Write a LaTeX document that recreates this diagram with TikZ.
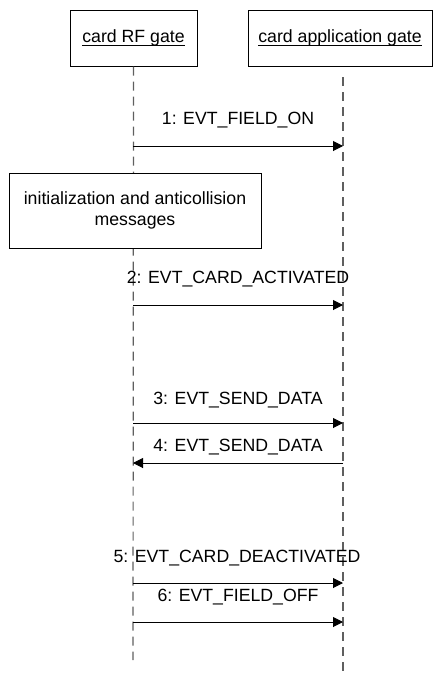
\documentclass[tikz,border=0pt]{standalone}
\usepackage{fontspec}
\setmainfont{Liberation Sans}
\usetikzlibrary{arrows.meta,positioning}

\definecolor{lifegray}{RGB}{95,95,95}
\newcommand{\gateline}[1]{\setbox0\hbox{#1}\rlap{\copy0}\rule[-1.6pt]{\wd0}{0.45pt}}

\tikzset{
  gatebox/.style={draw=black, line width=0.5pt, fill=white, minimum height=28pt, inner sep=0pt},
  lifeline/.style={draw=lifegray, line width=0.6pt, dash pattern=on 4.5pt off 3pt},
  msg/.style={draw=black, line width=0.5pt, -{Triangle[length=5pt,width=5pt]}},
  msglabel/.style={inner sep=0pt}
}

\begin{document}
\begin{tikzpicture}[x=0.5pt, y=-0.5pt, every node/.append style={font=\fontsize{8.85}{10.6}\selectfont}]
\useasboundingbox (0,0) rectangle (433,675);
\node [gatebox, minimum width=63.5pt] (rf) at (133.5,38) {\gateline{card RF gate}};
\node [gatebox, minimum width=92pt] (app) at (340,38) {\gateline{card application gate}};
\coordinate (rf-end) at (133,660);
\coordinate (app-top) at (343,77);
\coordinate (app-end) at (343,675);
\draw [lifeline] (rf.south) -- (rf-end);
\draw [lifeline] (app-top) -- (app-end);
\node [gatebox, minimum width=126pt, minimum height=37.5pt, align=center] (init) at (135,210.5) {initialization and anticollision\\messages};
\coordinate (m1a) at (133,146); \coordinate (m1b) at (343,146);
\coordinate (m2a) at (133,305); \coordinate (m2b) at (343,305);
\coordinate (m3a) at (133,423); \coordinate (m3b) at (343,423);
\coordinate (m4a) at (133,463); \coordinate (m4b) at (343,463);
\coordinate (m5a) at (133,583); \coordinate (m5b) at (343,583);
\coordinate (m6a) at (133,622); \coordinate (m6b) at (343,622);
\draw [msg] (m1a) -- (m1b);
\node [msglabel] (l1) at (238,120) {1: EVT\_FIELD\_ON};
\draw [msg] (m2a) -- (m2b);
\node [msglabel] (l2) at (238,279) {2: EVT\_CARD\_ACTIVATED};
\draw [msg] (m3a) -- (m3b);
\node [msglabel] (l3) at (238,400) {3: EVT\_SEND\_DATA};
\draw [msg] (m4b) -- (m4a);
\node [msglabel] (l4) at (238,447) {4: EVT\_SEND\_DATA};
\draw [msg] (m5a) -- (m5b);
\node [msglabel] (l5) at (237,558) {5: EVT\_CARD\_DEACTIVATED};
\draw [msg] (m6a) -- (m6b);
\node [msglabel] (l6) at (238,597) {6: EVT\_FIELD\_OFF};
\end{tikzpicture}
\end{document}
